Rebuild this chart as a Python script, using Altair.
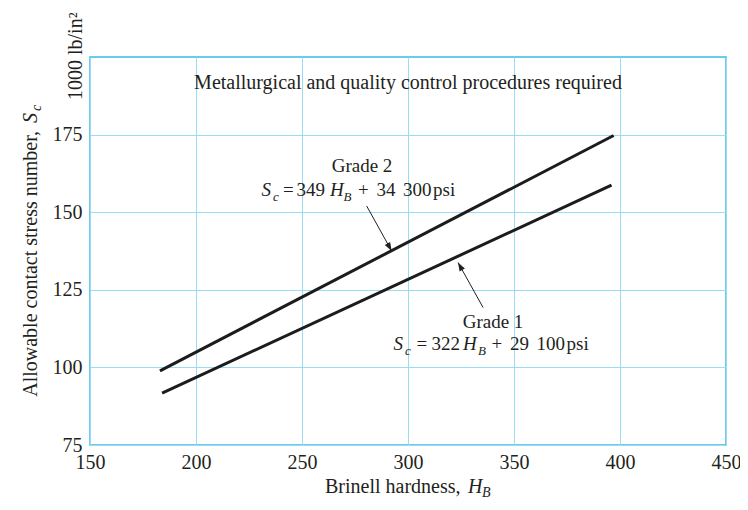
import altair as alt
import pandas as pd

FONT = "Liberation Serif"
TXT = "#231f20"
OX, OY = 90, 57  # page position of the plot's top-left corner

# ---- data ----
hb_grade2 = [183, 397]
sc_grade2 = [98.9, 174.7]
hb_grade1 = [184, 396]
sc_grade1 = [91.7, 158.7]
x_ticks = [150, 200, 250, 300, 350, 400, 450]
y_ticks = [75, 100, 125, 150, 175]

# arrows (tail -> tip) pointing at each line
arrow_hb_tail = [280.5, 335.4]
arrow_sc_tail = [152.0, 119.3]
arrow_hb_tip = [292.3, 323.6]
arrow_sc_tip = [137.5, 133.8]
arrow_angle = [151, 331]

lines_df = pd.DataFrame({
    "hb": hb_grade2 + hb_grade1,
    "sc": sc_grade2 + sc_grade1,
    "grade": ["Grade 2"] * len(hb_grade2) + ["Grade 1"] * len(hb_grade1),
})
arrow_df = pd.DataFrame({
    "hb_tail": arrow_hb_tail, "sc_tail": arrow_sc_tail,
    "hb_tip": arrow_hb_tip, "sc_tip": arrow_sc_tip, "angle": arrow_angle,
})

x_scale = alt.Scale(domain=[150, 450], nice=False, zero=False)
y_scale = alt.Scale(domain=[75, 200], nice=False, zero=False)
x_axis = alt.Axis(values=x_ticks, title=None, labelFlush=False, labelPadding=7)
y_axis = alt.Axis(values=y_ticks, title=None, labelFlush=False, labelPadding=8)

lines = alt.Chart(lines_df).mark_line(color="#1c1c1c", strokeWidth=3).encode(
    x=alt.X("hb:Q", scale=x_scale, axis=x_axis),
    y=alt.Y("sc:Q", scale=y_scale, axis=y_axis),
    detail="grade:N",
)

arrow_lines = alt.Chart(arrow_df).mark_rule(color=TXT, strokeWidth=1).encode(
    x=alt.X("hb_tail:Q", scale=x_scale, axis=x_axis),
    y=alt.Y("sc_tail:Q", scale=y_scale, axis=y_axis),
    x2="hb_tip:Q", y2="sc_tip:Q",
)
arrow_heads = alt.Chart(arrow_df).mark_point(
    shape="M0,0 L-0.35,1 L0.35,1 Z", filled=True, size=300, color=TXT, opacity=1, strokeWidth=0
).encode(
    x=alt.X("hb_tip:Q", scale=x_scale, axis=x_axis),
    y=alt.Y("sc_tip:Q", scale=y_scale, axis=y_axis),
    angle=alt.Angle("angle:Q", scale=None),
)

one = pd.DataFrame({"a": [0]})


def txt(s, x, y, size=20, italic=False, align="left", angle=0, baseline="alphabetic"):
    kw = dict(text=s, font=FONT, fontSize=size, color=TXT, align=align,
              baseline=baseline, fontStyle="italic" if italic else "normal")
    if angle:
        kw["angle"] = angle
    return alt.Chart(one).mark_text(**kw).encode(
        x=alt.value(x - OX), y=alt.value(y - OY))


EQ = 19
SUB = 13
texts = [
    txt("Metallurgical and quality control procedures required", 408, 89, align="center"),
    # Grade 2
    txt("Grade 2", 362, 172, size=EQ, align="center"),
    txt("S", 261.5, 195.5, size=EQ, italic=True),
    txt("c", 273, 200.5, size=SUB, italic=True),
    txt("=", 283, 195.5, size=EQ),
    txt("349", 296.5, 195.5, size=EQ),
    txt("H", 330, 195.5, size=EQ, italic=True),
    txt("B", 343.5, 200.5, size=SUB, italic=True),
    txt("+", 358, 195.5, size=EQ),
    txt("34", 376.5, 195.5, size=EQ),
    txt("300", 403, 195.5, size=EQ),
    txt("psi", 433, 195.5, size=EQ),
    # Grade 1
    txt("Grade 1", 493, 328, size=EQ, align="center"),
    txt("S", 393.5, 350, size=EQ, italic=True),
    txt("c", 405, 355, size=SUB, italic=True),
    txt("=", 416.5, 350, size=EQ),
    txt("322", 431.5, 350, size=EQ),
    txt("H", 463, 350, size=EQ, italic=True),
    txt("B", 478, 355, size=SUB, italic=True),
    txt("+", 491.5, 350, size=EQ),
    txt("29", 510, 350, size=EQ),
    txt("100", 536.5, 350, size=EQ),
    txt("psi", 566.5, 350, size=EQ),
    # x axis title
    txt("Brinell hardness,", 325, 493),
    txt("H", 468, 493, italic=True),
    txt("B", 482, 497, size=14, italic=True),
    # y axis title (rotated)
    txt("Allowable contact stress number,", 37, 131, align="right", angle=270),
    txt("S", 37, 123, italic=True, angle=270),
    txt("c", 41, 111, size=14, italic=True, angle=270),
    # units
    txt("1000 lb/in\u00b2", 82, 100, angle=270),
]

chart = alt.layer(lines, arrow_lines, arrow_heads, *texts).properties(
    width=636, height=388,
    padding={"left": 82, "top": 49, "right": 14, "bottom": 57},
    autosize=alt.AutoSizeParams(type="none"),
    background="white",
).configure_view(
    stroke="#3cb9e6", strokeWidth=1.5,
).configure_axis(
    labelFont=FONT, labelFontSize=20, labelColor=TXT,
    ticks=False, domain=False,
    gridColor="#9adcf4", gridWidth=1, gridOpacity=1,
)

chart.save("out.html", embed_options={"renderer": "svg", "actions": False})
